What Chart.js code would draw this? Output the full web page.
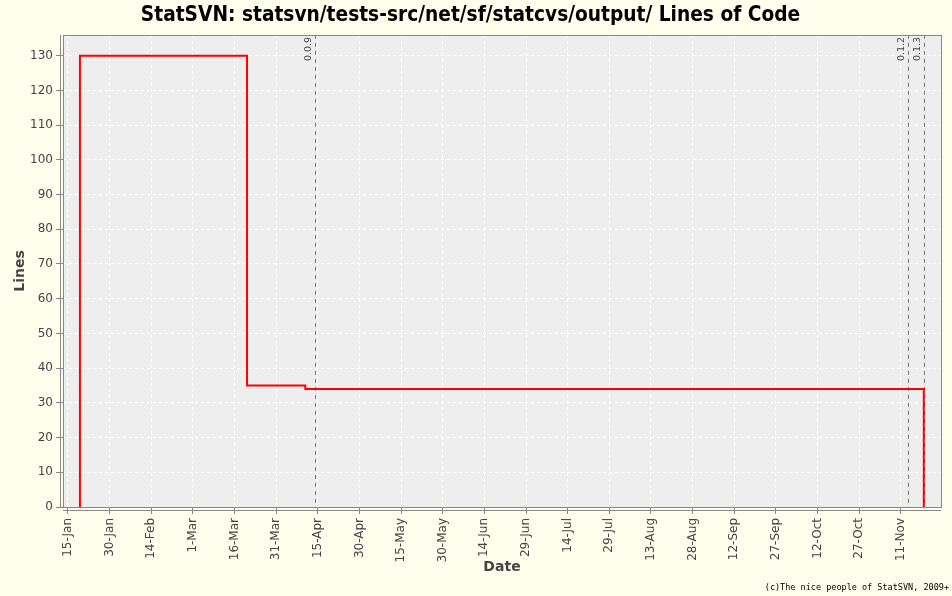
<!DOCTYPE html>
<html>
<head>
<meta charset="utf-8">
<script src="https://cdn.jsdelivr.net/npm/chart.js@4/dist/chart.umd.min.js"></script>
<style>
  html, body { margin: 0; padding: 0; background: #FFFFEE; }
  #wrap { width: 952px; height: 596px; }
</style>
</head>
<body>
<div id="wrap"><canvas id="c" width="952" height="596"></canvas></div>
<script>
// Day-of-year (non-leap year) for each change of the line count
const changeDays = [19.3, 19.3, 52.9, 79.5, 100.5, 323.3];
const lineCounts = [0, 130, 130, 35, 34, 0];

// Tagged versions (day-of-year) and their labels
const versionDays = [104.1, 317.6, 323.3];
const versionLabels = ['0.0.9', '0.1.2', '0.1.3'];

// X tick positions (day-of-year) and labels
const tickDays = [15, 30, 45, 60, 75, 90, 105, 120, 135, 150, 165, 180, 195, 210, 225, 240, 255, 270, 285, 300, 315];
const tickLabels = ['15-Jan', '30-Jan', '14-Feb', '1-Mar', '16-Mar', '31-Mar', '15-Apr', '30-Apr', '15-May', '30-May',
  '14-Jun', '29-Jun', '14-Jul', '29-Jul', '13-Aug', '28-Aug', '12-Sep', '27-Sep', '12-Oct', '27-Oct', '11-Nov'];

const yTicks = [0, 10, 20, 30, 40, 50, 60, 70, 80, 90, 100, 110, 120, 130];

const points = changeDays.map((d, i) => ({ x: d, y: lineCounts[i] }));

const framePlugin = {
  id: 'frame',
  beforeDraw(chart) {
    const { ctx, chartArea: a } = chart;
    ctx.save();
    ctx.fillStyle = '#FFFFEE';
    ctx.fillRect(0, 0, chart.width, chart.height);
    ctx.fillStyle = '#EEEEEE';
    ctx.fillRect(a.left, a.top, a.right - a.left, a.bottom - a.top);
    ctx.restore();
  },
  beforeDatasetsDraw(chart) {
    const { ctx, chartArea: a, scales } = chart;
    ctx.save();
    ctx.strokeStyle = '#777777';
    ctx.lineWidth = 1;
    ctx.setLineDash([4, 4]);
    ctx.font = '9.5px "DejaVu Sans"';
    ctx.fillStyle = '#444444';
    versionDays.forEach((d, i) => {
      const x = Math.round(scales.x.getPixelForValue(d)) + 0.5;
      ctx.beginPath();
      ctx.moveTo(x, a.top);
      ctx.lineTo(x, a.bottom);
      ctx.stroke();
      ctx.save();
      ctx.translate(x - 2, a.top + 2);
      ctx.rotate(-Math.PI / 2);
      ctx.textAlign = 'right';
      ctx.textBaseline = 'bottom';
      ctx.fillText(versionLabels[i], 0, 0);
      ctx.restore();
    });
    ctx.restore();
  },
  afterDraw(chart) {
    const { ctx, chartArea: a } = chart;
    ctx.save();
    ctx.strokeStyle = '#888888';
    ctx.lineWidth = 1;
    ctx.strokeRect(Math.round(a.left) + 0.5, Math.round(a.top) + 0.5, Math.round(a.right - a.left), Math.round(a.bottom - a.top));
    ctx.beginPath();
    ctx.moveTo(Math.round(a.left) - 2.5, a.top);
    ctx.lineTo(Math.round(a.left) - 2.5, a.bottom);
    ctx.moveTo(a.left, Math.round(a.bottom) + 3.5);
    ctx.lineTo(a.right, Math.round(a.bottom) + 3.5);
    ctx.stroke();
    ctx.fillStyle = '#000000';
    ctx.font = '8.5px "DejaVu Sans Mono"';
    ctx.textAlign = 'right';
    ctx.textBaseline = 'middle';
    ctx.fillText('(c)The nice people of StatSVN, 2009+', 949, 588);
    ctx.restore();
  }
};

new Chart(document.getElementById('c'), {
  type: 'line',
  data: {
    datasets: [{
      data: points,
      borderColor: '#FF0000',
      borderWidth: 2,
      pointRadius: 0,
      stepped: 'before',
      fill: false,
      tension: 0
    }]
  },
  plugins: [framePlugin],
  options: {
    responsive: false,
    animation: false,
    devicePixelRatio: 1,
    layout: { padding: { left: 0, right: 11, top: 0, bottom: 0 } },
    plugins: {
      legend: { display: false },
      tooltip: { enabled: false },
      title: {
        display: true,
        text: 'StatSVN: statsvn/tests-src/net/sf/statcvs/output/ Lines of Code',
        color: '#000000',
        font: { family: '"DejaVu Sans Condensed", "DejaVu Sans"', size: 20.7, weight: 'bold' },
        padding: { top: 3, bottom: 7 }
      }
    },
    scales: {
      x: {
        type: 'linear',
        min: 13.2,
        max: 329.5,
        afterBuildTicks(scale) { scale.ticks = tickDays.map(v => ({ value: v })); },
        afterFit(scale) { scale.height = 89; },
        ticks: {
          autoSkip: false,
          minRotation: 90,
          maxRotation: 90,
          color: '#444444',
          font: { family: '"DejaVu Sans"', size: 12 },
          padding: 4,
          callback(value, index) { return tickLabels[index]; }
        },
        grid: { color: '#FFFFFF', lineWidth: 1, tickColor: '#888888', tickLength: 7, drawTicks: true },
        border: { display: false, dash: [3, 3] },
        title: {
          display: true, text: 'Date', color: '#444444',
          font: { family: '"DejaVu Sans"', size: 14, weight: 'bold' },
          padding: { top: 20, bottom: 20 }
        }
      },
      y: {
        type: 'linear',
        min: 0,
        max: 136,
        afterBuildTicks(scale) { scale.ticks = yTicks.map(v => ({ value: v })); },
        afterFit(scale) { scale.width = 63; },
        ticks: {
          color: '#444444',
          font: { family: '"DejaVu Sans"', size: 12 },
          padding: 3
        },
        grid: { color: '#FFFFFF', lineWidth: 1, tickColor: '#888888', tickLength: 7, drawTicks: true },
        border: { display: false, dash: [3, 3] },
        title: {
          display: true, text: 'Lines', color: '#444444',
          font: { family: '"DejaVu Sans"', size: 14, weight: 'bold' },
          padding: { top: 12, bottom: 12 }
        }
      }
    }
  }
});
</script>
</body>
</html>
